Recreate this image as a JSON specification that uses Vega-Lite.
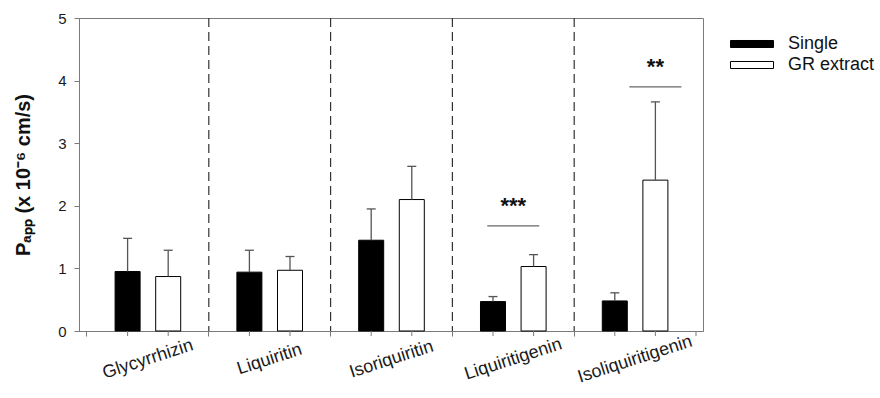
{
  "$schema": "https://vega.github.io/schema/vega-lite/v6.json",
  "autosize": {"type": "none"},
  "padding": {"left": 79, "top": 18, "right": 177, "bottom": 67},
  "width": 624,
  "height": 313,
  "background": "white",
  "config": {
    "font": "Liberation Sans",
    "view": {"stroke": "#7a7a7a", "strokeWidth": 1},
    "axis": {"domainColor": "#7a7a7a", "tickColor": "#7a7a7a", "grid": false, "labelColor": "#1a1a1a", "titleColor": "#111"}
  },
  "datasets": {
    "bars": [
      {"compound": "Glycyrrhizin", "group": "Single", "value": 0.95, "upper": 1.48},
      {"compound": "Glycyrrhizin", "group": "GR extract", "value": 0.87, "upper": 1.29},
      {"compound": "Liquiritin", "group": "Single", "value": 0.94, "upper": 1.29},
      {"compound": "Liquiritin", "group": "GR extract", "value": 0.97, "upper": 1.19},
      {"compound": "Isoriquiritin", "group": "Single", "value": 1.45, "upper": 1.95},
      {"compound": "Isoriquiritin", "group": "GR extract", "value": 2.10, "upper": 2.63},
      {"compound": "Liquiritigenin", "group": "Single", "value": 0.47, "upper": 0.55},
      {"compound": "Liquiritigenin", "group": "GR extract", "value": 1.03, "upper": 1.22},
      {"compound": "Isoliquiritigenin", "group": "Single", "value": 0.48, "upper": 0.61},
      {"compound": "Isoliquiritigenin", "group": "GR extract", "value": 2.41, "upper": 3.66}
    ],
    "seps": [
      {"compound": "Liquiritin"},
      {"compound": "Isoriquiritin"},
      {"compound": "Liquiritigenin"},
      {"compound": "Isoliquiritigenin"}
    ],
    "sig": [
      {"compound": "Liquiritigenin", "group": "GR extract", "label": "***", "line": 1.68, "texty": 1.88, "over": "pair"},
      {"compound": "Isoliquiritigenin", "group": "GR extract", "label": "**", "line": 3.90, "texty": 4.11, "over": "gr"}
    ]
  },
  "layer": [
    {
      "data": {"name": "seps"},
      "mark": {"type": "rule", "stroke": "#333", "strokeWidth": 1.2, "strokeDash": [9, 5]},
      "encoding": {
        "x": {"field": "compound", "type": "nominal", "bandPosition": 0,
              "scale": {"domain": ["Glycyrrhizin", "Liquiritin", "Isoriquiritin", "Liquiritigenin", "Isoliquiritigenin"]}}
      }
    },
    {
      "data": {"name": "bars"},
      "mark": {"type": "bar", "stroke": "#000", "strokeWidth": 1},
      "encoding": {
        "x": {
          "field": "compound", "type": "nominal",
          "scale": {"domain": ["Glycyrrhizin", "Liquiritin", "Isoriquiritin", "Liquiritigenin", "Isoliquiritigenin"],
                    "paddingInner": 0, "paddingOuter": 0.0616, "align": 0.533},
          "axis": {
            "title": null, "bandPosition": 0, "labelAngle": -18,
            "labelAlign": "center", "labelBaseline": "middle", "labelPadding": 23,
            "tickSize": 5, "labelFontSize": 18, "labelOverlap": false, "labelBound": false
          }
        },
        "xOffset": {
          "field": "group", "type": "nominal",
          "scale": {"domain": ["Single", "GR extract"], "paddingInner": 0.384, "paddingOuter": 0.692}
        },
        "y": {
          "field": "value", "type": "quantitative",
          "scale": {"domain": [0, 5], "nice": false, "zero": true},
          "axis": {
            "values": [0, 1, 2, 3, 4, 5], "format": "d", "tickSize": 5, "labelFontSize": 15, "labelPadding": 8,
            "title": "Pₐₚₚ (x 10⁻⁶ cm/s)", "titleFontSize": 20, "titleFontWeight": "bold", "titlePadding": 24
          }
        },
        "fill": {
          "field": "group", "type": "nominal",
          "scale": {"domain": ["Single", "GR extract"], "range": ["#000000", "#ffffff"]},
          "legend": {
            "title": null, "orient": "none", "legendX": 651, "legendY": 16,
            "symbolType": "M-1,-0.163L1,-0.163L1,0.163L-1,0.163Z", "symbolSize": 1849,
            "symbolStrokeColor": "#000", "symbolStrokeWidth": 1,
            "labelFontSize": 18, "labelColor": "#111", "labelOffset": 14,
            "clipHeight": 20, "rowPadding": 1
          }
        }
      }
    },
    {
      "data": {"name": "bars"},
      "mark": {"type": "rule", "stroke": "#555", "strokeWidth": 1.3},
      "encoding": {
        "x": {"field": "compound", "type": "nominal"},
        "xOffset": {"field": "group", "type": "nominal"},
        "y": {"field": "value", "type": "quantitative"},
        "y2": {"field": "upper"}
      }
    },
    {
      "data": {"name": "bars"},
      "mark": {"type": "tick", "orient": "horizontal", "color": "#555", "size": 9, "thickness": 1.3, "opacity": 1},
      "encoding": {
        "x": {"field": "compound", "type": "nominal"},
        "xOffset": {"field": "group", "type": "nominal"},
        "y": {"field": "upper", "type": "quantitative"}
      }
    },
    {
      "data": {"name": "bars"},
      "mark": {"type": "tick", "orient": "vertical", "color": "#7a7a7a", "size": 5, "thickness": 1, "yOffset": 2.5, "opacity": 1},
      "encoding": {
        "x": {"field": "compound", "type": "nominal"},
        "xOffset": {"field": "group", "type": "nominal"},
        "y": {"datum": 0, "type": "quantitative"}
      }
    },
    {
      "data": {"name": "seps"},
      "transform": [{"filter": "datum.compound == 'Isoliquiritigenin'"}],
      "mark": {"type": "tick", "orient": "vertical", "color": "#7a7a7a", "size": 5, "thickness": 1, "yOffset": 2.5, "opacity": 1},
      "encoding": {
        "x": {"field": "compound", "type": "nominal", "bandPosition": 1},
        "y": {"datum": 0, "type": "quantitative"}
      }
    },
    {
      "data": {"name": "sig"},
      "transform": [{"filter": "datum.over == 'pair'"}],
      "layer": [
        {
          "mark": {"type": "tick", "orient": "horizontal", "color": "#666", "size": 52, "thickness": 1.3, "opacity": 1},
          "encoding": {
            "x": {"field": "compound", "type": "nominal"},
            "y": {"field": "line", "type": "quantitative"}
          }
        },
        {
          "mark": {"type": "text", "fontSize": 22, "fontWeight": "bold", "baseline": "alphabetic", "align": "center", "color": "#111"},
          "encoding": {
            "x": {"field": "compound", "type": "nominal"},
            "y": {"field": "texty", "type": "quantitative"},
            "text": {"field": "label"}
          }
        }
      ]
    },
    {
      "data": {"name": "sig"},
      "transform": [{"filter": "datum.over == 'gr'"}],
      "layer": [
        {
          "mark": {"type": "tick", "orient": "horizontal", "color": "#666", "size": 52, "thickness": 1.3, "opacity": 1},
          "encoding": {
            "x": {"field": "compound", "type": "nominal"},
            "xOffset": {"field": "group", "type": "nominal"},
            "y": {"field": "line", "type": "quantitative"}
          }
        },
        {
          "mark": {"type": "text", "fontSize": 22, "fontWeight": "bold", "baseline": "alphabetic", "align": "center", "color": "#111"},
          "encoding": {
            "x": {"field": "compound", "type": "nominal"},
            "xOffset": {"field": "group", "type": "nominal"},
            "y": {"field": "texty", "type": "quantitative"},
            "text": {"field": "label"}
          }
        }
      ]
    }
  ]
}
